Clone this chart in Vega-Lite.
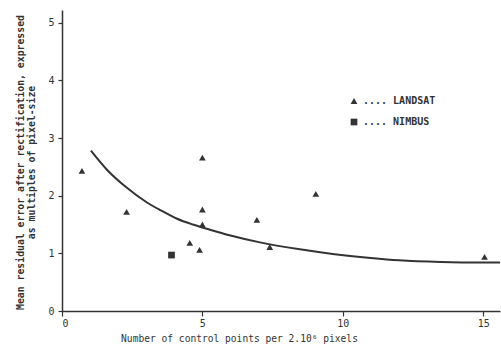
{
  "$schema": "https://vega.github.io/schema/vega-lite/v6.json",
  "width": 438,
  "height": 301,
  "autosize": {"type": "none"},
  "padding": {"left": 62, "top": 10, "right": 1, "bottom": 34},
  "background": "white",
  "config": {
    "view": {"stroke": null},
    "font": "DejaVu Sans Mono",
    "axis": {
      "grid": false,
      "domainColor": "#333",
      "tickColor": "#333",
      "labelColor": "#333",
      "titleColor": "#333",
      "labelFont": "DejaVu Sans Mono",
      "titleFont": "DejaVu Sans Mono",
      "labelFontSize": 10,
      "titleFontSize": 9.8,
      "titleFontWeight": "bold",
      "domainWidth": 1.5,
      "tickWidth": 1.2
    }
  },
  "datasets": {
    "curve": [
      {"x": 1.03, "y": 2.78},
      {"x": 1.6, "y": 2.45},
      {"x": 2.3, "y": 2.14},
      {"x": 3.0, "y": 1.89},
      {"x": 3.5, "y": 1.75},
      {"x": 4.1, "y": 1.6},
      {"x": 4.66, "y": 1.5},
      {"x": 5.27, "y": 1.41},
      {"x": 6.0, "y": 1.31},
      {"x": 7.05, "y": 1.19},
      {"x": 8.47, "y": 1.07},
      {"x": 9.64, "y": 0.99},
      {"x": 11.0, "y": 0.92},
      {"x": 12.0, "y": 0.88},
      {"x": 13.5, "y": 0.85},
      {"x": 14.98, "y": 0.84},
      {"x": 15.6, "y": 0.84}
    ],
    "points": [
      {"x": 0.71, "y": 2.43, "sensor": ".... LANDSAT"},
      {"x": 2.3, "y": 1.72, "sensor": ".... LANDSAT"},
      {"x": 5.0, "y": 2.66, "sensor": ".... LANDSAT"},
      {"x": 5.0, "y": 1.76, "sensor": ".... LANDSAT"},
      {"x": 5.0, "y": 1.5, "sensor": ".... LANDSAT"},
      {"x": 4.55, "y": 1.18, "sensor": ".... LANDSAT"},
      {"x": 4.9, "y": 1.06, "sensor": ".... LANDSAT"},
      {"x": 6.94, "y": 1.58, "sensor": ".... LANDSAT"},
      {"x": 7.4, "y": 1.11, "sensor": ".... LANDSAT"},
      {"x": 9.04, "y": 2.03, "sensor": ".... LANDSAT"},
      {"x": 15.05, "y": 0.94, "sensor": ".... LANDSAT"},
      {"x": 3.9, "y": 0.97, "sensor": ".... NIMBUS"}
    ]
  },
  "layer": [
    {
      "data": {"name": "curve"},
      "mark": {"type": "line", "color": "#333", "strokeWidth": 2, "interpolate": "monotone"},
      "encoding": {
        "x": {
          "field": "x", "type": "quantitative",
          "scale": {"domain": [0, 15.6], "nice": false, "zero": false},
          "axis": {
            "values": [0, 5, 10, 15],
            "format": "d",
            "title": "Number of control points per 2.10⁶ pixels",
            "titleX": 177,
            "titleY": 27,
            "titleAlign": "center",
            "titleBaseline": "middle",
            "titleFontWeight": "normal",
            "titleFontSize": 9.6,
            "tickSize": 5,
            "labelPadding": 2
          }
        },
        "y": {
          "field": "y", "type": "quantitative",
          "scale": {"domain": [0, 5.22], "nice": false},
          "axis": {
            "values": [0, 1, 2, 3, 4, 5],
            "format": "d",
            "title": ["Mean residual error after rectification, expressed", "as multiples of pixel-size"],
            "titleFontSize": 9.8,
            "titleY": 152,
            "titleAlign": "center",
            "titlePadding": 11,
            "titleLineHeight": 11,
            "tickSize": 4,
            "labelPadding": 4
          }
        }
      }
    },
    {
      "data": {"name": "points"},
      "mark": {"type": "point", "filled": true, "opacity": 1, "size": 45},
      "encoding": {
        "x": {"field": "x", "type": "quantitative"},
        "y": {"field": "y", "type": "quantitative"},
        "shape": {
          "field": "sensor", "type": "nominal",
          "scale": {"domain": [".... LANDSAT", ".... NIMBUS"], "range": ["triangle-up", "square"]},
          "legend": {
            "orient": "none",
            "legendX": 287,
            "legendY": 86,
            "title": null,
            "labelFont": "DejaVu Sans Mono",
            "labelFontSize": 10,
            "labelFontWeight": "bold",
            "labelColor": "#333",
            "symbolFillColor": "#333",
            "symbolStrokeColor": "#333",
            "symbolSize": 45,
            "rowPadding": 8,
            "labelOffset": 4
          }
        },
        "color": {"value": "#333"}
      }
    }
  ]
}
